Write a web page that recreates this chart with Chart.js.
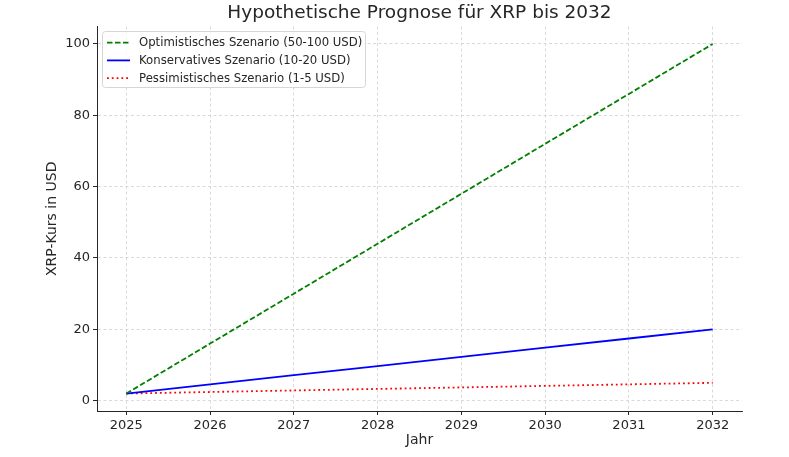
<!DOCTYPE html>
<html>
<head>
<meta charset="utf-8">
<script src="https://cdn.jsdelivr.net/npm/chart.js@4.4.1/dist/chart.umd.min.js"></script>
<style>
  html, body { margin: 0; padding: 0; background: #fff; }
  #wrap { width: 789px; height: 457px; }
</style>
</head>
<body>
<div id="wrap"><canvas id="chart"></canvas></div>
<script>
// Daten
const years = [2025, 2026, 2027, 2028, 2029, 2030, 2031, 2032];
const optimistic = [2, 16, 30, 44, 58, 72, 86, 100];
const conservative = [2, 4.57, 7.14, 9.71, 12.29, 14.86, 17.43, 20];
const pessimistic = [2, 2.43, 2.86, 3.29, 3.71, 4.14, 4.57, 5];
const seriesLabels = [
  "Optimistisches Szenario (50-100 USD)",
  "Konservatives Szenario (10-20 USD)",
  "Pessimistisches Szenario (1-5 USD)",
];
const chartTitle = "Hypothetische Prognose für XRP bis 2032";

const font = "DejaVu Sans";
const toPoints = (vals) => vals.map((v, i) => ({ x: years[i], y: v }));

//Titel ueber der Mitte der Zeichenflaeche
const areaTitle = {
  id: "areaTitle",
  afterDraw(chart) {
    const ctx = chart.ctx;
    const a = chart.chartArea;
    ctx.save();
    ctx.font = "18.5px '" + font + "'";
    ctx.fillStyle = "#262626";
    ctx.textAlign = "center";
    ctx.textBaseline = "middle";
    ctx.fillText(chartTitle, (a.left + a.right) / 2, 13.5);
    ctx.restore();
  },
};

//Legende innerhalb des Diagramms, wie bei matplotlib
const insideLegend = {
  id: "insideLegend",
  afterDraw(chart) {
    const ctx = chart.ctx;
    const x = 102, y = 31, w = 263, h = 56;
    ctx.save();
    ctx.fillStyle = "rgba(255,255,255,0.8)";
    ctx.strokeStyle = "#d6d6d6";
    ctx.lineWidth = 1;
    ctx.beginPath();
    ctx.roundRect(x + 0.5, y + 0.5, w, h, 3);
    ctx.fill();
    ctx.stroke();
    ctx.font = "11.7px '" + font + "'";
    ctx.textBaseline = "middle";
    chart.data.datasets.forEach((ds, i) => {
      const ly = 42.7 + i * 17.7;
      ctx.strokeStyle = ds.borderColor;
      ctx.lineWidth = ds.borderWidth;
      ctx.setLineDash(ds.borderDash || []);
      ctx.beginPath();
      ctx.moveTo(107, ly);
      ctx.lineTo(130, ly);
      ctx.stroke();
      ctx.setLineDash([]);
      ctx.fillStyle = "#262626";
      ctx.fillText(ds.label, 139, ly + 0.5);
    });
    ctx.restore();
  },
};

new Chart(document.getElementById("chart"), {
  type: "line",
  data: {
    datasets: [
      {
        label: seriesLabels[0],
        data: toPoints(optimistic),
        borderColor: "#008000",
        borderWidth: 1.8,
        borderDash: [5.5, 2.5],
      },
      {
        label: seriesLabels[1],
        data: toPoints(conservative),
        borderColor: "#0000ff",
        borderWidth: 1.8,
      },
      {
        label: seriesLabels[2],
        data: toPoints(pessimistic),
        borderColor: "#ff0000",
        borderWidth: 1.8,
        borderDash: [1.8, 3],
      },
    ],
  },
  options: {
    responsive: true,
    maintainAspectRatio: false,
    animation: false,
    elements: { point: { radius: 0 }, line: { tension: 0 } },
    layout: { padding: { right: 47, left: 0, bottom: 0, top: 26.5 } },
    plugins: {
      legend: { display: false },
      tooltip: { enabled: false },
      title: { display: false },
    },
    scales: {
      x: {
        type: "linear",
        min: 2024.65,
        max: 2032.35,
        afterFit: (s) => { s.height = 46; },
        ticks: {
          stepSize: 1,
          includeBounds: false,
          padding: 3,
          color: "#262626",
          font: { family: font, size: 13 },
          maxRotation: 0,
          callback: (v) => String(v),
        },
        grid: { color: "#d0d0d0", lineWidth: 0.8, tickLength: 4, tickColor: "#262626", tickWidth: 1 },
        border: { color: "#262626", width: 1, dash: [3, 2.5] },
        title: {
          display: true,
          text: "Jahr",
          color: "#262626",
          font: { family: font, size: 14 },
          padding: { top: 0, bottom: 8 },
        },
      },
      y: {
        min: -2.9,
        max: 104.9,
        afterFit: (s) => { s.width = 97; },
        ticks: {
          stepSize: 20,
          includeBounds: false,
          padding: 3,
          color: "#262626",
          font: { family: font, size: 13 },
        },
        grid: { color: "#d0d0d0", lineWidth: 0.8, tickLength: 4, tickColor: "#262626", tickWidth: 1 },
        border: { color: "#262626", width: 1, dash: [3, 2.5] },
        title: {
          display: true,
          text: "XRP-Kurs in USD",
          color: "#262626",
          font: { family: font, size: 14 },
          padding: { top: 44, bottom: 0 },
        },
      },
    },
  },
  plugins: [areaTitle, insideLegend],
});
</script>
</body>
</html>
